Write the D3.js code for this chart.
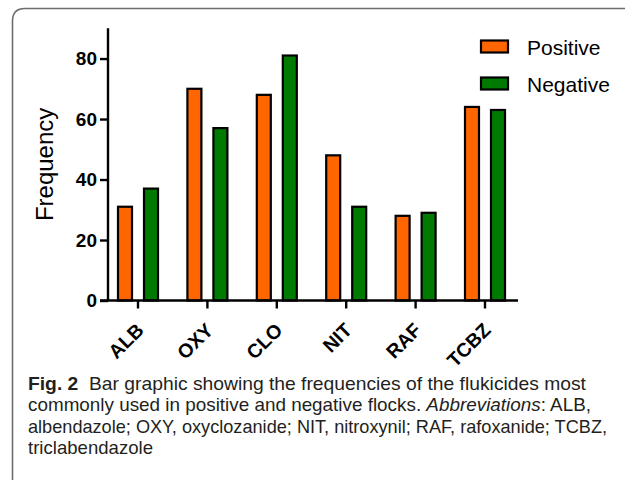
<!DOCTYPE html>
<html>
<head>
<meta charset="utf-8">
<script src="https://cdn.jsdelivr.net/npm/d3@7"></script>
<style>
  body { margin: 0; background: #fff; }
  svg { display: block; }
</style>
</head>
<body>
<div class="draw-section"></div>
<script>
// data
const categories = ['ALB', 'OXY', 'CLO', 'NIT', 'RAF', 'TCBZ'];
const seriesNames = ['Positive', 'Negative'];
const positive = [31, 70, 68, 48, 28, 64];
const negative = [37, 57, 81, 31, 29, 63];
const yTicks = [0, 20, 40, 60, 80];
const captionLines = [
  [{ t: 'Fig. 2', w: 'bold' }, { t: '  Bar graphic showing the frequencies of the flukicides most' }],
  [{ t: 'commonly used in positive and negative flocks. ' }, { t: 'Abbreviations', i: true }, { t: ': ALB,' }],
  [{ t: 'albendazole; OXY, oxyclozanide; NIT, nitroxynil; RAF, rafoxanide; TCBZ,' }],
  [{ t: 'triclabendazole' }]
];

const W = 625, H = 480;
const colors = { Positive: '#ff6600', Negative: '#007a00' };
const values = { Positive: positive, Negative: negative };

const svg = d3.select('.draw-section')
  .append('svg')
  .attr('width', W)
  .attr('height', H);

// frame of the figure box (rounded top-left, open on right/bottom)
svg.append('path')
  .attr('d', `M12.5,${H} V21 Q12.5,8.5 25,8.5 H${W}`)
  .attr('fill', 'none')
  .attr('stroke', '#6d6d6d')
  .attr('stroke-width', 1.6);

const x0 = d3.scaleBand()
  .domain(categories)
  .range([103.3, 519.7]);

const x1 = d3.scalePoint()
  .domain(seriesNames)
  .range([-13, 13]);

const y = d3.scaleLinear()
  .domain([0, 90])
  .range([300.5, 28.3]);

const cx = c => x0(c) + x0.bandwidth() / 2;
const barW = 14;

// bars
const groups = svg.append('g').attr('class', 'blobs')
  .selectAll('g')
  .data(seriesNames)
  .enter()
  .append('g')
  .style('fill', s => colors[s]);

groups.selectAll('rect')
  .data(s => categories.map((c, i) => ({ s, c, v: values[s][i] })))
  .enter()
  .append('rect')
  .attr('x', d => cx(d.c) + x1(d.s) - barW / 2)
  .attr('y', d => y(d.v))
  .attr('width', barW)
  .attr('height', d => y(0) - y(d.v))
  .attr('stroke', '#000')
  .attr('stroke-width', 2.2);

// y axis
const yAxis = d3.axisLeft(y)
  .tickValues(yTicks)
  .tickSize(8)
  .tickPadding(3)
  .tickSizeOuter(0);

const gy = svg.append('g')
  .attr('class', 'yaxis')
  .attr('transform', 'translate(108,0)')
  .call(yAxis);

gy.select('.domain')
  .attr('stroke-width', 2.4)
  .attr('d', `M0,${y(90)}V${y(0)}`);
gy.selectAll('.tick line').attr('stroke-width', 2.4);
gy.selectAll('.tick text')
  .attr('font-family', '"Liberation Sans", Arial, sans-serif')
  .attr('font-weight', 'bold')
  .attr('font-size', 19)
  .attr('fill', '#000');

// x axis
const xAxis = d3.axisBottom(x0)
  .tickSize(8)
  .tickSizeOuter(0);

const gx = svg.append('g')
  .attr('class', 'xaxis')
  .attr('transform', `translate(0,${y(0)})`)
  .call(xAxis);

gx.select('.domain')
  .attr('stroke-width', 2.4)
  .attr('d', 'M100,0H518');
gx.selectAll('.tick line').attr('stroke-width', 2.4);
gx.selectAll('.tick text')
  .attr('font-family', '"Liberation Sans", Arial, sans-serif')
  .attr('font-weight', 'bold')
  .attr('font-size', 19.5)
  .attr('fill', '#000')
  .style('text-anchor', 'end')
  .attr('x', 0)
  .attr('y', 0)
  .attr('dy', '0.72em')
  .attr('transform', 'translate(-3,21) rotate(-45)');

// y axis title
svg.append('text')
  .attr('transform', `translate(53,${y(45)}) rotate(-90)`)
  .attr('text-anchor', 'middle')
  .attr('font-family', '"Liberation Sans", Arial, sans-serif')
  .attr('font-size', 24)
  .attr('fill', '#000')
  .text('Frequency');

// legend
const legend = svg.append('g')
  .attr('class', 'legend')
  .selectAll('g')
  .data(seriesNames)
  .enter()
  .append('g')
  .attr('transform', (d, i) => `translate(481,${40.5 + i * 37})`);

legend.append('rect')
  .attr('width', 27)
  .attr('height', 12)
  .attr('fill', d => colors[d])
  .attr('stroke', '#000')
  .attr('stroke-width', 2.2);

legend.append('text')
  .attr('x', 46)
  .attr('y', 14)
  .attr('font-family', '"Liberation Sans", Arial, sans-serif')
  .attr('font-size', 21)
  .attr('fill', '#000')
  .text(d => d);

// caption
const lineWidths = [558, 563, 579, 125];
const caption = svg.append('g').attr('class', 'caption');
captionLines.forEach((parts, i) => {
  const t = caption.append('text')
    .attr('x', 28)
    .attr('y', 390 + i * 21.4)
    .attr('font-family', '"Liberation Sans", Arial, sans-serif')
    .attr('font-size', 18.5)
    .attr('fill', '#231f20')
    .attr('textLength', lineWidths[i])
    .attr('lengthAdjust', 'spacingAndGlyphs')
    .style('white-space', 'pre');
  parts.forEach(p => {
    t.append('tspan')
      .attr('font-weight', p.w || null)
      .attr('font-style', p.i ? 'italic' : null)
      .text(p.t);
  });
});
</script>
</body>
</html>
